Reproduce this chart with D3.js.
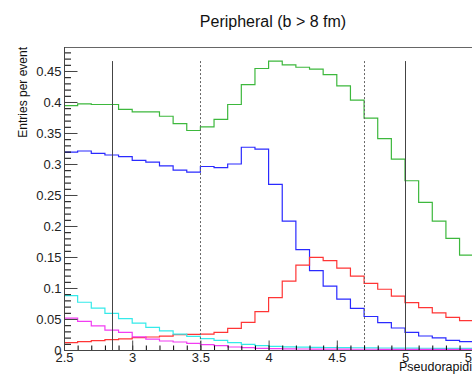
<!DOCTYPE html>
<html>
<head>
<meta charset="utf-8">
<script src="https://cdn.jsdelivr.net/npm/d3@7"></script>
<style>
  body { margin: 0; background: #fff; }
  svg { display: block; font-family: "Liberation Sans", Arial, sans-serif; }
</style>
</head>
<body>
<script>
// bin edges start at 2.5, width 0.1
var binStart = 2.5,
    binWidth = 0.1;

var green = [0.394, 0.397, 0.396, 0.396, 0.388, 0.384, 0.384, 0.377, 0.365, 0.354,
             0.360, 0.372, 0.396, 0.428, 0.454, 0.466, 0.460, 0.456, 0.453, 0.444,
             0.426, 0.403, 0.374, 0.341, 0.308, 0.273, 0.238, 0.208, 0.180, 0.153];
var blue = [0.319, 0.321, 0.317, 0.3145, 0.312, 0.306, 0.303, 0.297, 0.290, 0.287,
            0.296, 0.294, 0.300, 0.327, 0.324, 0.267, 0.208, 0.162, 0.128, 0.103,
            0.082, 0.067, 0.054, 0.044, 0.0355, 0.0285, 0.0226, 0.0194, 0.0156, 0.0134];
var red = [0.0118, 0.0134, 0.015, 0.0166, 0.018, 0.0199, 0.021, 0.0225, 0.0247, 0.0252,
           0.0255, 0.0285, 0.035, 0.0447, 0.0618, 0.0844, 0.111, 0.137, 0.1495, 0.144,
           0.132, 0.119, 0.1075, 0.098, 0.087, 0.0763, 0.0683, 0.060, 0.0527, 0.0473];
var cyan = [0.0876, 0.077, 0.0675, 0.059, 0.0505, 0.0435, 0.0366, 0.031, 0.0255, 0.022,
            0.0185, 0.0155, 0.0118, 0.0092, 0.0072, 0.0058, 0.005, 0.0045, 0.0043, 0.004,
            0.0038, 0.0036, 0.0034, 0.0032, 0.003, 0.003, 0.0028, 0.0027, 0.0026, 0.0025];
var magenta = [0.0513, 0.0463, 0.0388, 0.032, 0.0283, 0.0213, 0.0177, 0.0145, 0.0129, 0.0108,
               0.0088, 0.007, 0.0048, 0.0037, 0.0027, 0.0022, 0.0018, 0.0016, 0.0015, 0.0014,
               0.0013, 0.0012, 0.0012, 0.0011, 0.0011, 0.001, 0.001, 0.001, 0.001, 0.001];

// vertical marker lines: solid and dotted
var solidLines = [2.85, 5.0];
var dottedLines = [3.5, 4.7];
var lineTop = 0.466;

var xTicks = [2.5, 3, 3.5, 4, 4.5, 5, 5.5];
var yTicks = [0, 0.05, 0.1, 0.15, 0.2, 0.25, 0.3, 0.35, 0.4, 0.45];

var titleText = 'Peripheral (b > 8 fm)',
    yTitle = 'Entries per event',
    xTitle = 'Pseudorapidity';

var W = 472, H = 374;

var svg = d3.select('body').append('svg')
  .attr('width', W)
  .attr('height', H);

var x = d3.scaleLinear().domain([2.5, 6]).range([64, 541.4]);
var y = d3.scaleLinear().domain([0, 0.4887]).range([350, 47]);

// frame
svg.append('line').attr('x1', 64).attr('x2', W).attr('y1', 47.5).attr('y2', 47.5)
  .attr('stroke', '#666').attr('stroke-width', 1);

// histograms as steps
var step = d3.line()
  .x(function(d) { return x(d[0]); })
  .y(function(d) { return y(d[1]); });

function stepPoints(vals) {
  var pts = [];
  vals.forEach(function(v, i) {
    var a = binStart + i * binWidth;
    pts.push([a, v]);
    pts.push([a + binWidth, v]);
  });
  return pts;
}

var series = [
  { vals: green, color: '#3db83d' },
  { vals: blue, color: '#2a2aff' },
  { vals: red, color: '#ff3535' },
  { vals: cyan, color: '#35eaea' },
  { vals: magenta, color: '#f23cf2' }
];

svg.selectAll('path.hist')
  .data(series)
  .enter()
  .append('path')
  .attr('class', 'hist')
  .attr('d', function(d) { return step(stepPoints(d.vals)); })
  .attr('fill', 'none')
  .attr('stroke', function(d) { return d.color; })
  .attr('stroke-width', 1.2);

// marker lines
svg.selectAll('line.solid')
  .data(solidLines)
  .enter()
  .append('line')
  .attr('class', 'solid')
  .attr('x1', function(d) { return Math.round(x(d)) + 0.5; })
  .attr('x2', function(d) { return Math.round(x(d)) + 0.5; })
  .attr('y1', y(lineTop))
  .attr('y2', y(0))
  .attr('stroke', '#444')
  .attr('stroke-width', 1);

svg.selectAll('line.dotted')
  .data(dottedLines)
  .enter()
  .append('line')
  .attr('class', 'dotted')
  .attr('x1', function(d) { return Math.round(x(d)) + 0.5; })
  .attr('x2', function(d) { return Math.round(x(d)) + 0.5; })
  .attr('y1', y(lineTop))
  .attr('y2', y(0))
  .attr('stroke', '#666')
  .attr('stroke-width', 1)
  .attr('stroke-dasharray', '2,2');

// y axis: minor then major ticks
var yMinor = d3.range(0, 0.4851, 0.01);
svg.append('g')
  .attr('transform', 'translate(64.5,0)')
  .call(d3.axisLeft(y).tickValues(yMinor).tickSize(-6.5).tickFormat(''))
  .call(function(g) { g.select('.domain').remove(); });

var yAxis = svg.append('g')
  .attr('transform', 'translate(64.5,0)')
  .call(d3.axisLeft(y).tickValues(yTicks).tickSize(-13).tickPadding(3)
    .tickFormat(function(d) { return d === 0 ? '0' : d3.format('')(+d.toFixed(2)); }));
yAxis.select('.domain').attr('stroke', '#444').attr('d', 'M0,47V350');
yAxis.selectAll('.tick line').attr('stroke', '#444');
yAxis.selectAll('text').attr('font-size', 13).attr('fill', '#222')
  .style('font-family', '"Liberation Sans", Arial, sans-serif');

// x axis
var xMinor = d3.range(2.5, 6.01, 0.1);
svg.append('g')
  .attr('transform', 'translate(0,350.5)')
  .call(d3.axisBottom(x).tickValues(xMinor).tickSize(-5).tickFormat(''))
  .call(function(g) { g.select('.domain').remove(); });

var xAxis = svg.append('g')
  .attr('transform', 'translate(0,350.5)')
  .call(d3.axisBottom(x).tickValues(xTicks).tickSize(-10).tickPadding(2)
    .tickFormat(function(d) { return String(d); }));
xAxis.select('.domain').attr('stroke', '#444').attr('d', 'M64,0H' + W);
xAxis.selectAll('.tick line').attr('stroke', '#444');
xAxis.selectAll('text').attr('font-size', 13).attr('fill', '#222')
  .style('font-family', '"Liberation Sans", Arial, sans-serif');

svg.selectAll('.tick line').attr('stroke-width', 1);

// titles
svg.append('text')
  .attr('x', 273)
  .attr('y', 27)
  .attr('text-anchor', 'middle')
  .attr('font-size', 16)
  .attr('fill', '#111')
  .text(titleText);

svg.append('text')
  .attr('transform', 'translate(27,47) rotate(-90)')
  .attr('text-anchor', 'end')
  .attr('font-size', 12)
  .attr('fill', '#111')
  .text(yTitle);

svg.append('text')
  .attr('x', 399)
  .attr('y', 371)
  .attr('font-size', 12.5)
  .attr('fill', '#111')
  .text(xTitle);
</script>
</body>
</html>
